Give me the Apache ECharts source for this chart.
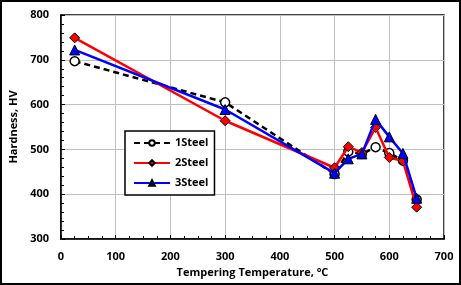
<!DOCTYPE html>
<html>
<head>
<meta charset="utf-8">
<script src="https://cdn.jsdelivr.net/npm/echarts@6/dist/echarts.min.js"></script>
<style>
  html, body { margin: 0; padding: 0; background: #fff; }
  #chart { width: 461px; height: 285px; }
</style>
</head>
<body>
<div id="chart"></div>
<script>
var temps = [25, 300, 500, 525, 550, 575, 600, 625, 650];
var steel1 = [697, 605, 445, 495, 490, 505, 492, 475, 388];
var steel2 = [749, 564, 459, 506, 493, 549, 482, 474, 371];
var steel3 = [722, 589, 447, 479, 490, 567, 528, 491, 391];

function pairs(xs, ys) {
	var out = [];
	for (var i = 0; i < xs.length; i++) {
		out.push([xs[i], ys[i]]);
	}
	return out;
}

var myChart = echarts.init(document.getElementById('chart'));
var font = 'Open Sans';
var option = {
	animation: false,
	graphic: [{
		type: 'rect',
		shape: { x: 1, y: 1, width: 459, height: 283 },
		style: { fill: 'none', stroke: '#000', lineWidth: 2 },
		z: 100
	}],
	grid: {
		left: 61,
		right: 17,
		top: 15,
		bottom: 46,
		show: true,
		borderColor: '#000',
		borderWidth: 1.5
	},
	legend: {
		left: 125,
		top: 131,
		orient: 'vertical',
		itemWidth: 36,
		itemHeight: 7,
		itemGap: 6,
		padding: [5, 6, 5, 8],
		borderColor: '#000',
		borderWidth: 1.5,
		backgroundColor: '#fff',
		textStyle: { fontFamily: font, fontWeight: 'bold', fontSize: 11, color: '#000', lineHeight: 14 },
		data: ['1Steel', '2Steel', '3Steel']
	},
	xAxis: {
		type: 'value',
		min: 0,
		max: 700,
		interval: 100,
		name: 'Tempering Temperature, °C',
		nameLocation: 'middle',
		nameGap: 27,
		nameTextStyle: { fontFamily: font, fontWeight: 'bold', fontSize: 11, color: '#000' },
		axisLine: { lineStyle: { color: '#000', width: 1.5 } },
		axisTick: { inside: true, length: 4, lineStyle: { color: '#000' } },
		minorTick: { show: true, splitNumber: 4, length: 3, lineStyle: { color: '#000' } },
		axisLabel: { fontFamily: font, fontWeight: 'bold', fontSize: 11, color: '#000', margin: 12 },
		splitLine: { show: true, lineStyle: { color: '#c0c0c0', width: 1 } }
	},
	yAxis: {
		type: 'value',
		min: 300,
		max: 800,
		interval: 100,
		name: 'Hardness, HV',
		nameLocation: 'middle',
		nameGap: 40,
		nameTextStyle: { fontFamily: font, fontWeight: 'bold', fontSize: 11, color: '#000' },
		axisLine: { show: true, lineStyle: { color: '#000', width: 1.5 } },
		axisTick: { show: true, inside: true, length: 4, lineStyle: { color: '#000' } },
		minorTick: { show: true, splitNumber: 5, length: 3, lineStyle: { color: '#000' } },
		axisLabel: { fontFamily: font, fontWeight: 'bold', fontSize: 11, color: '#000', margin: 12 },
		splitLine: { show: true, lineStyle: { color: '#c0c0c0', width: 1 } }
	},
	series: [
		{
			name: '1Steel',
			type: 'line',
			data: pairs(temps, steel1),
			symbol: 'circle',
			symbolSize: 9,
			lineStyle: { color: '#000', width: 2.5, type: [6, 4] },
			itemStyle: { color: '#fff', borderColor: '#000', borderWidth: 1.5 },
			z: 2
		},
		{
			name: '2Steel',
			type: 'line',
			data: pairs(temps, steel2),
			symbol: 'diamond',
			symbolSize: 10,
			lineStyle: { color: '#ff0000', width: 2.5 },
			itemStyle: { color: '#ff0000', borderColor: '#000', borderWidth: 1 },
			z: 3
		},
		{
			name: '3Steel',
			type: 'line',
			data: pairs(temps, steel3),
			symbol: 'triangle',
			symbolSize: 10,
			lineStyle: { color: '#0000ff', width: 2.5 },
			itemStyle: { color: '#0000ff', borderColor: '#000', borderWidth: 1 },
			z: 4
		}
	]
};
myChart.setOption(option);
</script>
</body>
</html>
